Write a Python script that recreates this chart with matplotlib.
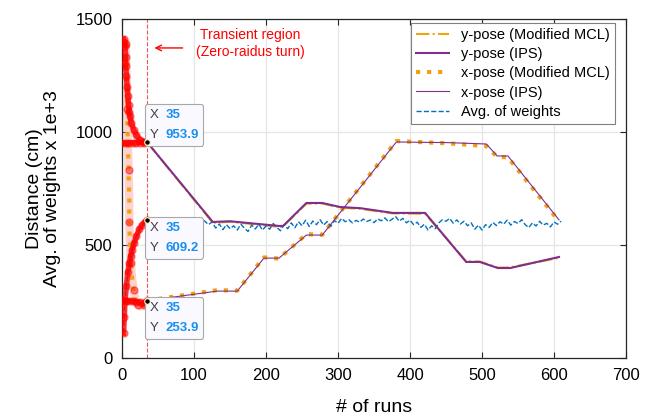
import numpy as np
import matplotlib.pyplot as plt
from matplotlib.offsetbox import TextArea, HPacker, VPacker, AnnotationBbox

plt.rcParams['font.family'] = ['Liberation Sans', 'DejaVu Sans']

# steady part (after the transient region)
ypose_x = [35, 126, 150, 219, 224, 256, 278, 303, 331, 376, 421, 478, 497, 522, 539, 607]
ypose_ips = [953.9, 602, 605, 584, 585, 686, 686, 668, 663, 642, 642, 425, 425, 398, 398, 447]
ypose_mcl = [953.9, 598, 603, 580, 584, 683, 684, 665, 660, 640, 638, 428, 427, 400, 401, 443]

xpose_x = [35, 132, 160, 197, 218, 256, 278, 381, 453, 506, 521, 536, 607]
xpose_ips = [253.9, 296, 296, 442, 442, 544, 544, 956, 953, 947, 894, 894, 611]
xpose_mcl = [253.9, 300, 298, 445, 440, 548, 545, 960, 950, 938, 890, 888, 605]

weights_x = list(range(35, 611, 5))
weights = [609.2, 615, 598, 612, 620, 596, 608, 618, 601, 612, 603, 619, 607, 614, 598, 616,
           605, 590, 602, 575, 593, 568, 590, 572, 585, 566, 592, 574, 560, 588, 571, 592,
           566, 584, 570, 595, 578, 563, 590, 572, 598, 576, 603, 585, 610, 582, 606, 590,
           612, 588, 604, 583, 608, 596, 618, 603, 612, 598, 609, 601, 615, 604, 611, 599,
           616, 607, 620, 603, 614, 626, 605, 618, 598, 610, 590, 601, 578, 592, 566, 585,
           572, 598, 612, 605, 618, 597, 611, 593, 605, 585, 598, 570, 588, 566, 590, 578,
           600, 586, 603, 592, 610, 588, 604, 595, 612, 590, 577, 598, 584, 605, 588, 596,
           580, 602, 592, 605]

# transient region (zero-radius turn), brushed in red
tr_ymcl_x = [2, 3, 4, 5, 4, 5, 6, 7, 8, 9, 10, 11, 13, 16, 20, 25, 30, 35]
tr_ymcl = [1410, 1400, 1380, 1330, 1305, 1290, 1250, 1200, 1160, 1120, 1090, 1070, 1040, 1010, 985, 965, 958, 953.9]
tr_yips_x = [0, 5, 10, 15, 20, 25, 30, 35]
tr_yips = [950, 951, 952, 952, 953, 953, 953.5, 953.9]
tr_xmcl_x = [5, 6, 7, 8, 9, 10, 10, 11, 12, 14, 16, 18, 22, 26, 30, 35]
tr_xmcl = [1390, 1250, 1100, 960, 830, 700, 600, 500, 420, 350, 300, 260, 235, 228, 236, 253.9]
tr_xips_x = [0, 5, 10, 15, 20, 25, 30, 35]
tr_xips = [255, 254, 252, 250, 248, 246, 242, 253.9]
tr_w_x = [2, 3, 4, 6, 8, 10, 12, 14, 17, 20, 24, 28, 32, 35]
tr_w = [110, 180, 250, 320, 380, 420, 450, 480, 510, 540, 570, 590, 602, 609.2]

orange = '#F0A20F'
purple = '#7E2F8E'
blue = '#0072BD'

fig = plt.figure(figsize=(6.46, 4.19), dpi=100)
ax = fig.add_axes([0.189, 0.1456, 0.78, 0.809])

ax.plot(ypose_x, ypose_mcl, color=orange, ls='-.', lw=1.5, label='y-pose (Modified MCL)', zorder=3)
ax.plot(ypose_x, ypose_ips, color=purple, lw=1.5, label='y-pose (IPS)', zorder=4)
ax.plot(xpose_x, xpose_mcl, color=orange, ls=':', lw=3, label='x-pose (Modified MCL)', zorder=3)
ax.plot(xpose_x, xpose_ips, color=purple, lw=0.8, label='x-pose (IPS)', zorder=4)
ax.plot(weights_x, weights, color=blue, ls='--', lw=1, label='Avg. of weights', zorder=3)

# brushed transient data
ax.plot(tr_xmcl_x, tr_xmcl, color='#FF9999', lw=6, alpha=0.45, zorder=2)
ax.plot(tr_xmcl_x, tr_xmcl, color=orange, ls=':', lw=3, zorder=3)
ax.plot(tr_xmcl_x[::2], tr_xmcl[::2], 'o', color='red', ms=5, alpha=0.45, zorder=3)
ax.plot(tr_w_x, tr_w, color=blue, ls='--', lw=1, zorder=3)
for tx, ty in [(tr_ymcl_x, tr_ymcl), (tr_yips_x, tr_yips), (tr_xips_x, tr_xips), (tr_w_x, tr_w)]:
    ax.plot(tx, ty, color='red', lw=4, alpha=0.8, zorder=5)
    ax.plot(tx, ty, 'o', color='red', ms=5, alpha=0.45, zorder=5)

ax.axvline(35, color='#E65A5A', ls='--', lw=0.8, zorder=2)
ax.annotate('', xy=(41, 1372), xytext=(88, 1372),
            arrowprops=dict(arrowstyle='->', color='red', lw=1))
ax.text(178, 1392, 'Transient region\n(Zero-raidus turn)', color='red', fontsize=10,
        ha='center', va='center', linespacing=1.25)


def datatip(xv, yv, above):
    rows = []
    for k, v in (('X', '%g' % xv), ('Y', '%g' % yv)):
        rows.append(HPacker(children=[
            TextArea(k, textprops=dict(color='#404040', fontsize=9.5)),
            TextArea(v, textprops=dict(color='#1A8FEF', fontsize=9.5, fontweight='bold'))],
            sep=5, align='baseline'))
    box = VPacker(children=rows, sep=6, align='left')
    ab = AnnotationBbox(box, (xv, yv), xybox=(1.5, 1 if above else -1), xycoords='data',
                        boxcoords='offset points', box_alignment=(0, 0) if above else (0, 1),
                        bboxprops=dict(boxstyle='round,pad=0.35,rounding_size=0.2',
                                       fc='#F9F9FF', ec='#A8A8A8', lw=0.8),
                        frameon=True, zorder=8)
    ax.add_artist(ab)
    ax.plot(xv, yv, 'o', ms=4, mfc='black', mec='#FFF3C0', mew=0.8, zorder=9)


datatip(35, 953.9, True)
datatip(35, 609.2, False)
datatip(35, 253.9, False)

ax.set_xlim(0, 700)
ax.set_ylim(0, 1500)
ax.set_xticks(range(0, 701, 100))
ax.set_yticks([0, 500, 1000, 1500])
ax.grid(True, color='#E6E6E6', lw=0.9)
ax.set_axisbelow(True)
ax.tick_params(direction='in', top=True, right=True, length=4, labelsize=12, pad=7,
               colors='#262626', labelcolor='black')
for s in ax.spines.values():
    s.set_color('#262626')
    s.set_linewidth(0.9)

ax.set_xlabel('# of runs', fontsize=14, labelpad=12)
ax.set_ylabel('Distance (cm)\nAvg. of weights x 1e+3', fontsize=14, linespacing=1.15, labelpad=10)

leg = ax.legend(loc='upper right', bbox_to_anchor=(0.978, 0.988), borderaxespad=0,
                fontsize=10.5, fancybox=False, edgecolor='#808080', framealpha=1,
                handlelength=2.3, labelspacing=0.35, borderpad=0.35)
leg.get_frame().set_linewidth(0.8)

fig.savefig('out.png', dpi=100)
